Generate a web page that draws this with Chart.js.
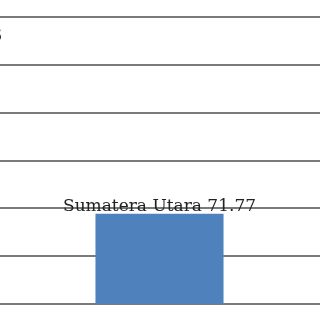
<!DOCTYPE html>
<html>
<head>
<meta charset="utf-8">
<script src="https://cdn.jsdelivr.net/npm/chart.js@4"></script>
<style>
  html, body { margin: 0; padding: 0; background: #fff; overflow: hidden; }
  #wrap { position: absolute; top: 0; left: -193px; width: 705px; height: 320px; }
</style>
</head>
<body>
<div id="wrap"><canvas id="barChart" width="705" height="320"></canvas></div>
<script>
const provinces = ['DKI Jakarta', 'Sumatera Utara', ''];
const ipm = [78.86, 71.77, null];
const yMin = 68;
const yMax = 80;
const yStep = 2;

// value labels above each bar: "Name value"
const barLabels = {
  id: 'barLabels',
  afterDatasetsDraw(chart) {
    const c = chart.ctx;
    const meta = chart.getDatasetMeta(0);
    c.save();
    c.font = '17px "DejaVu Serif"';
    c.fillStyle = '#222';
    c.textAlign = 'center';
    c.textBaseline = 'alphabetic';
    meta.data.forEach((bar, i) => {
      if (ipm[i] == null) return;
      c.fillText(provinces[i] + ' ' + ipm[i].toFixed(2), bar.x, bar.y - 3);
    });
    c.restore();
  }
};

const ctx = document.getElementById('barChart').getContext('2d');
new Chart(ctx, {
  type: 'bar',
  data: {
    labels: provinces,
    datasets: [{
      data: ipm,
      backgroundColor: '#4f81bd',
      barPercentage: 0.545,
      categoryPercentage: 1
    }]
  },
  options: {
    responsive: false,
    animation: false,
    layout: { padding: { top: 17, bottom: 16, left: 0, right: 0 } },
    plugins: { legend: { display: false }, tooltip: { enabled: false } },
    scales: {
      x: { display: false },
      y: {
        min: yMin,
        max: yMax,
        ticks: { display: false, stepSize: yStep },
        border: { display: false },
        grid: { color: '#7a7a7a', lineWidth: 2, drawTicks: false }
      }
    }
  },
  plugins: [barLabels]
});
</script>
</body>
</html>
